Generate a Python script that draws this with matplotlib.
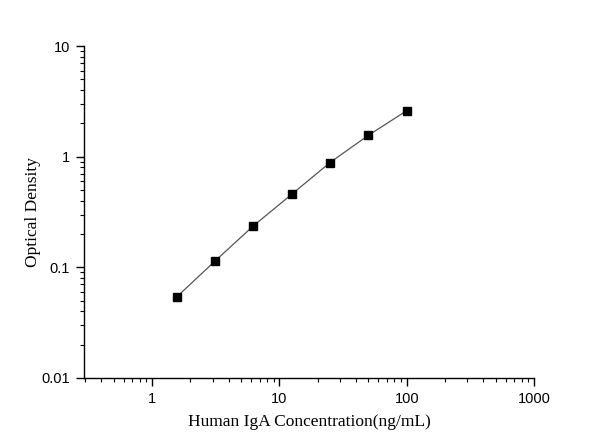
import matplotlib
matplotlib.use("Agg")
import matplotlib.pyplot as plt
from matplotlib.ticker import LogLocator, FixedLocator, FixedFormatter, NullFormatter

# standard curve data
concentration = [1.5625, 3.125, 6.25, 12.5, 25, 50, 100]
optical_density = [0.054, 0.114, 0.237, 0.457, 0.885, 1.56, 2.60]

x_ticks = [1, 10, 100, 1000]
x_labels = ["1", "10", "100", "1000"]
y_ticks = [0.01, 0.1, 1, 10]
y_labels = ["0.01", "0.1", "1", "10"]

fig = plt.figure(figsize=(6, 4.48), dpi=100)
ax = fig.add_axes([0.14, 0.1563, 0.75, 0.741])

ax.plot(concentration, optical_density, color="#555555", linewidth=0.9, zorder=2)
ax.plot(concentration, optical_density, linestyle="none", marker="s",
        markersize=6, color="black", zorder=3)

ax.set_xscale("log")
ax.set_yscale("log")
ax.set_xlim(0.292, 1000)
ax.set_ylim(0.01, 10)

ax.xaxis.set_major_locator(FixedLocator(x_ticks))
ax.xaxis.set_major_formatter(FixedFormatter(x_labels))
ax.yaxis.set_major_locator(FixedLocator(y_ticks))
ax.yaxis.set_major_formatter(FixedFormatter(y_labels))
ax.xaxis.set_minor_locator(LogLocator(base=10, subs=range(2, 10)))
ax.yaxis.set_minor_locator(LogLocator(base=10, subs=range(2, 10)))
ax.xaxis.set_minor_formatter(NullFormatter())
ax.yaxis.set_minor_formatter(NullFormatter())

for side in ["top", "right"]:
    ax.spines[side].set_visible(False)
for side in ["left", "bottom"]:
    ax.spines[side].set_linewidth(1.0)

ax.tick_params(which="major", direction="out", length=6, width=1,
               labelsize=10.5, pad=4)
ax.tick_params(which="minor", direction="out", length=3, width=0.8)
for lab in ax.get_xticklabels() + ax.get_yticklabels():
    lab.set_fontfamily("Liberation Sans")

ax.set_xlabel("Human IgA Concentration(ng/mL)", fontfamily="Liberation Serif",
              fontsize=12.5, labelpad=6)
ax.set_ylabel("Optical Density", fontfamily="Liberation Serif",
              fontsize=12.5, labelpad=0)

fig.savefig("out.png", dpi=100)
